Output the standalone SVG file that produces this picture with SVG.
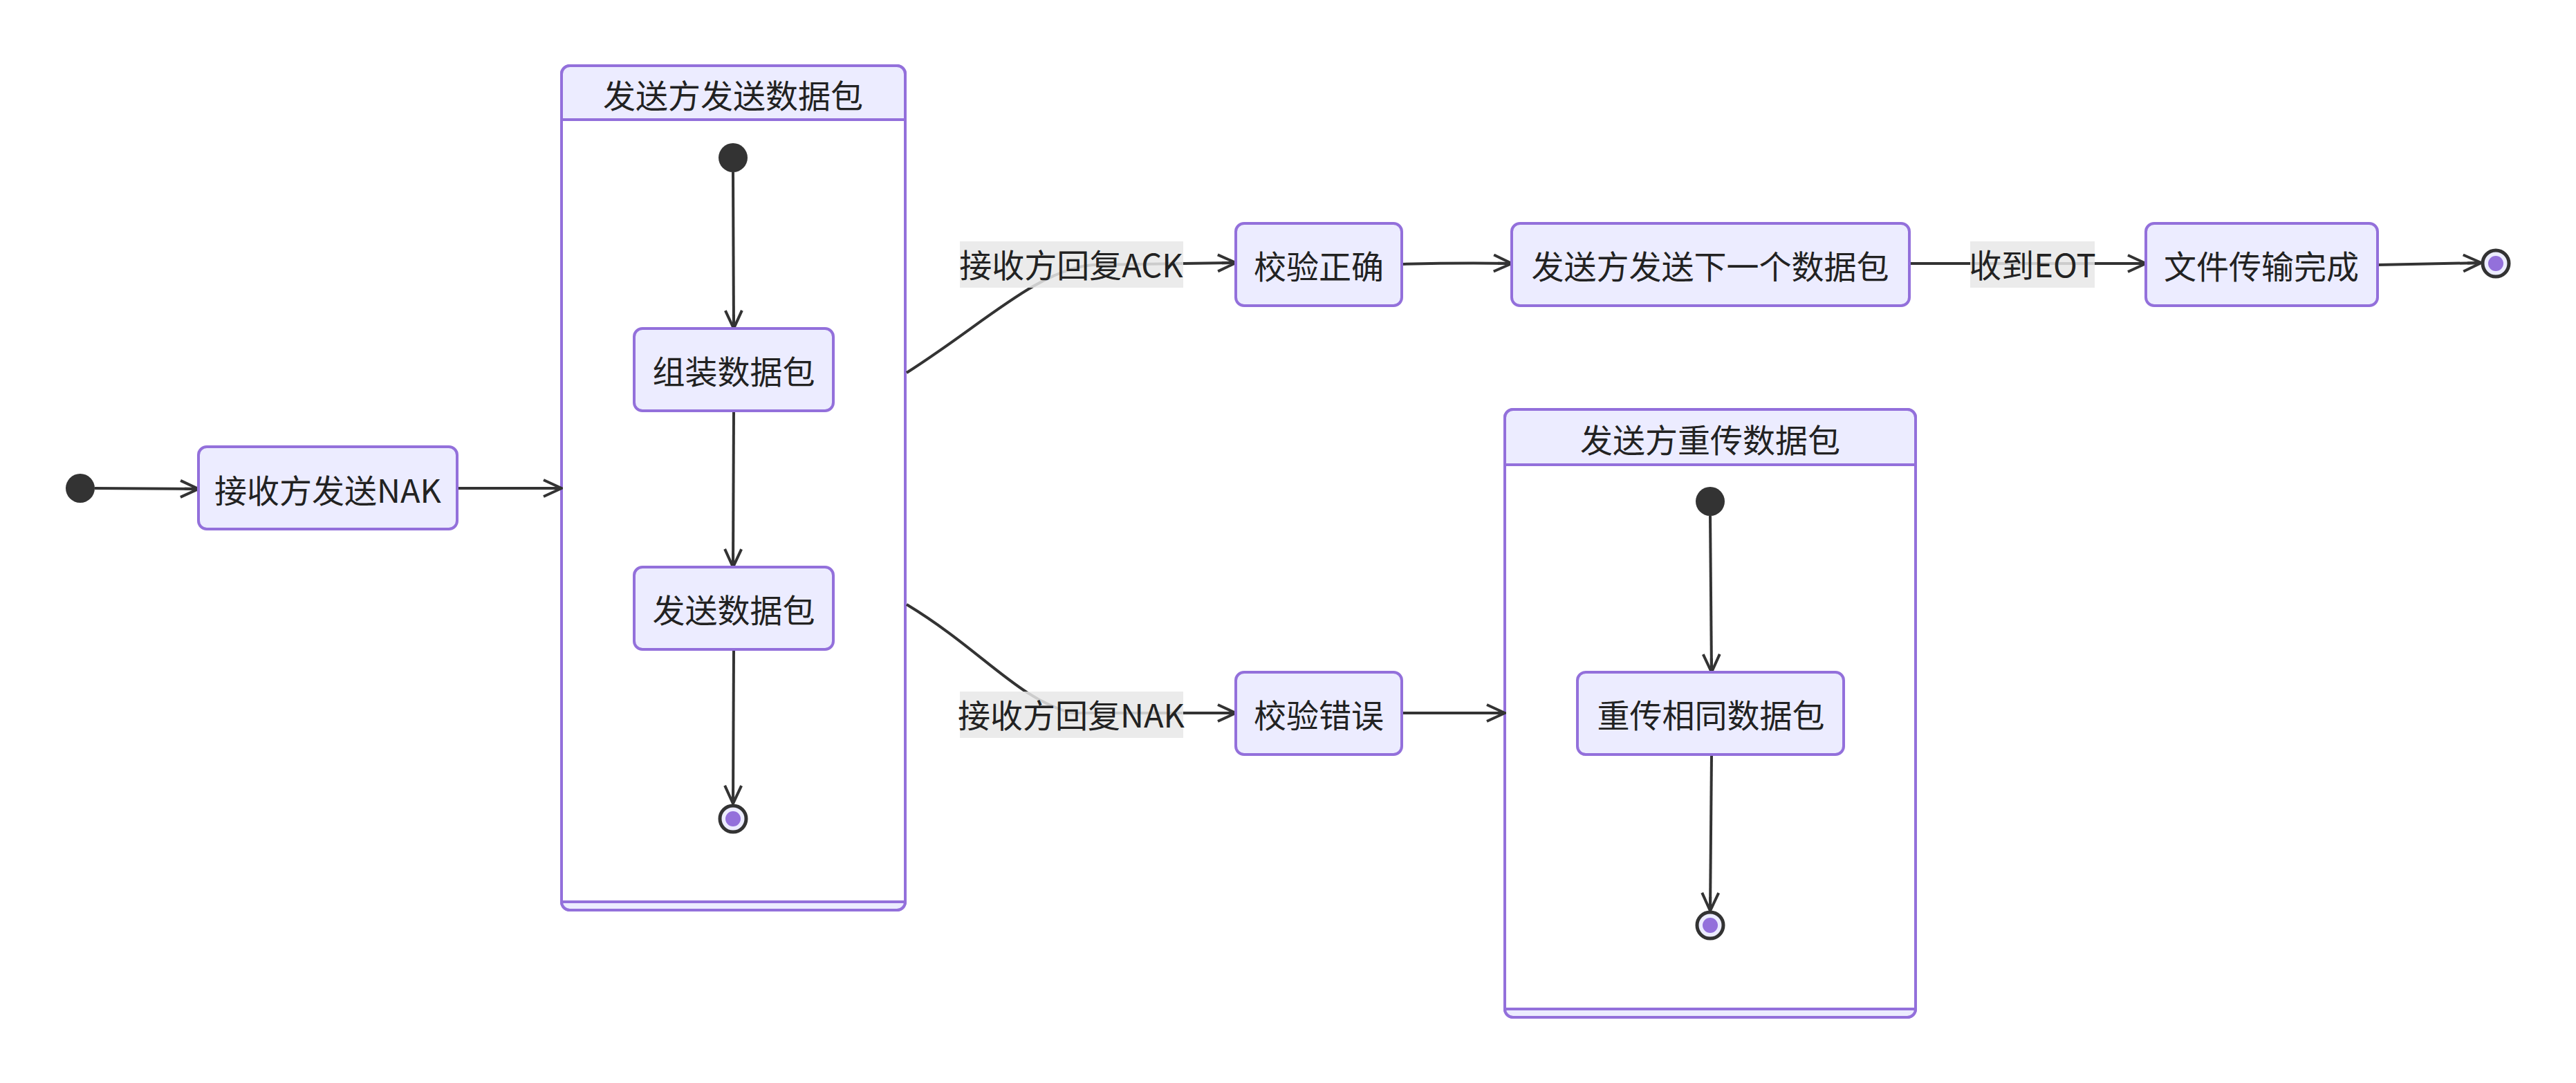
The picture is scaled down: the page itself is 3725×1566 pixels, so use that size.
<svg xmlns="http://www.w3.org/2000/svg" width="3725" height="1566" viewBox="0 0 3725 1566">
<style>
.n{fill:#ECECFF;stroke:#9370DB;stroke-width:4}
.c{fill:#fff;stroke:#9370DB;stroke-width:4}
.t{font-family:"Noto Sans CJK SC","Liberation Sans",sans-serif;font-size:47px;fill:#222;text-anchor:middle;dominant-baseline:central}
.e{fill:none;stroke:#333;stroke-width:4}
.lb{fill:#E8E8E8;opacity:0.85}
.s{fill:#333}
</style>
<defs>
<marker id="a" viewBox="0 0 30 28" refX="28" refY="14" markerWidth="30" markerHeight="28" markerUnits="userSpaceOnUse" orient="auto">
<path d="M2,2 L28,14 L2,26 M8,14 L28,14" fill="none" stroke="#333" stroke-width="4"/>
</marker>
</defs>
<g id="cluster1">
<rect class="c" x="812" y="95" width="497" height="1221" rx="12"/>
<path class="n" d="M812,173 V107 a12,12 0 0 1 12,-12 H1297 a12,12 0 0 1 12,12 V173 Z"/>
<path class="n" d="M812,1304 H1309 a12,12 0 0 1 -12,12 H824 a12,12 0 0 1 -12,-12 Z"/>
<text class="t" x="1060" y="135">发送方发送数据包</text>
</g>
<g id="cluster2">
<rect class="c" x="2176" y="592" width="594" height="879" rx="12"/>
<path class="n" d="M2176,672 V604 a12,12 0 0 1 12,-12 H2758 a12,12 0 0 1 12,12 V672 Z"/>
<path class="n" d="M2176,1459 H2770 a12,12 0 0 1 -12,12 H2188 a12,12 0 0 1 -12,-12 Z"/>
<text class="t" x="2473" y="633">发送方重传数据包</text>
</g>
<g id="edges">
<path class="e" d="M137,706 L287,707" marker-end="url(#a)"/>
<path class="e" d="M661,706 L812,706" marker-end="url(#a)"/>
<path class="e" d="M1060,249 L1061,475" marker-end="url(#a)"/>
<path class="e" d="M1061,594 L1060,820" marker-end="url(#a)"/>
<path class="e" d="M1061,939 L1060,1162" marker-end="url(#a)"/>
<path class="e" d="M1311,539 C1420,470 1500,390 1580,383 L1787,380" marker-end="url(#a)"/>
<path class="e" d="M1311,874 C1420,940 1470,1010 1550,1031 L1787,1031" marker-end="url(#a)"/>
<path class="e" d="M2027,382 C2100,380 2130,380 2186,381" marker-end="url(#a)"/>
<path class="e" d="M2761,381 L3103,381" marker-end="url(#a)"/>
<path class="e" d="M3438,383 L3588,380" marker-end="url(#a)"/>
<path class="e" d="M2027,1031 L2176,1031" marker-end="url(#a)"/>
<path class="e" d="M2473,746 L2475,972" marker-end="url(#a)"/>
<path class="e" d="M2475,1091 L2473,1317" marker-end="url(#a)"/>
<rect class="lb" x="1388" y="349" width="323" height="67"/>
<text class="t" x="1549" y="380">接收方回复ACK</text>
<rect class="lb" x="1388" y="1000" width="323" height="67"/>
<text class="t" x="1549" y="1031">接收方回复NAK</text>
<rect class="lb" x="2849" y="349" width="180" height="67"/>
<text class="t" x="2939" y="380">收到EOT</text>
</g>
<g id="start"><circle class="s" cx="116" cy="706" r="21"/></g>
<g id="n1"><rect class="n" x="287" y="646" width="374" height="119" rx="12"/><text class="t" x="474" y="706">接收方发送NAK</text></g>
<g id="s1"><circle class="s" cx="1060" cy="228" r="21"/></g>
<g id="n2"><rect class="n" x="917" y="475" width="288" height="119" rx="12"/><text class="t" x="1061" y="534">组装数据包</text></g>
<g id="n3"><rect class="n" x="917" y="820" width="288" height="119" rx="12"/><text class="t" x="1061" y="879">发送数据包</text></g>
<g id="e1"><circle cx="1060" cy="1184" r="19" fill="#ECECFF" stroke="#333" stroke-width="5"/><circle cx="1060" cy="1184" r="11" fill="#9370DB"/></g>
<g id="n4"><rect class="n" x="1787" y="323" width="240" height="119" rx="12"/><text class="t" x="1907" y="382">校验正确</text></g>
<g id="n5"><rect class="n" x="2186" y="323" width="575" height="119" rx="12"/><text class="t" x="2473" y="382">发送方发送下一个数据包</text></g>
<g id="n6"><rect class="n" x="3103" y="323" width="335" height="119" rx="12"/><text class="t" x="3270" y="382">文件传输完成</text></g>
<g id="end"><circle cx="3609" cy="381" r="19" fill="#ECECFF" stroke="#333" stroke-width="5"/><circle cx="3609" cy="381" r="11" fill="#9370DB"/></g>
<g id="n7"><rect class="n" x="1787" y="972" width="240" height="119" rx="12"/><text class="t" x="1907" y="1031">校验错误</text></g>
<g id="s2"><circle class="s" cx="2473" cy="725" r="21"/></g>
<g id="n8"><rect class="n" x="2281" y="972" width="385" height="119" rx="12"/><text class="t" x="2474" y="1031">重传相同数据包</text></g>
<g id="e2"><circle cx="2473" cy="1338" r="19" fill="#ECECFF" stroke="#333" stroke-width="5"/><circle cx="2473" cy="1338" r="11" fill="#9370DB"/></g>
</svg>
